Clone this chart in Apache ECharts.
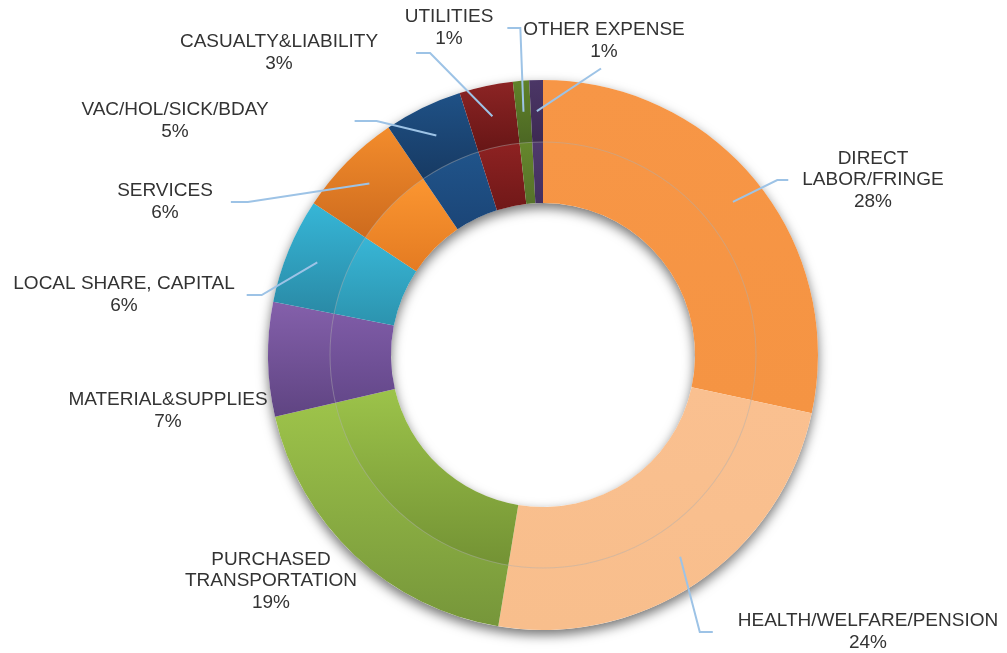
<!DOCTYPE html>
<html>
<head>
<meta charset="utf-8">
<title>Operating expense breakdown</title>
<script src="https://cdn.jsdelivr.net/npm/echarts@6/dist/echarts.min.js"></script>
<style>
  html, body { margin: 0; padding: 0; background: #fff; }
  #chart { width: 1007px; height: 653px; }
</style>
</head>
<body>
<div id="chart"></div>
<script>
// categories as they are printed on the chart (line breaks included)
const categories = [
  'DIRECT\nLABOR/FRINGE',
  'HEALTH/WELFARE/PENSION',
  'PURCHASED\nTRANSPORTATION',
  'MATERIAL&SUPPLIES',
  'LOCAL SHARE, CAPITAL',
  'SERVICES',
  'VAC/HOL/SICK/BDAY',
  'CASUALTY&LIABILITY',
  'UTILITIES',
  'OTHER EXPENSE'
]
// shares (labels show them rounded)
const shares = [28.4, 24.2, 18.8, 6.7, 6.2, 6.2, 4.6, 3.15, 0.95, 0.8]

// slice shading (top -> bottom), outer and inner band
const outerTop = ['#F79646', '#FAC090', '#9DC34A', '#8460AB', '#36B6D7', '#F38C2C', '#1F5186', '#8C2424', '#608229', '#4B3666']
const outerBottom = ['#F59443', '#F8BE8C', '#76963A', '#5F4482', '#2A8AA6', '#CD6B1E', '#173A63', '#671616', '#4C6724', '#3D2A53']
const innerTop = ['#F79646', '#FAC090', '#9CC34A', '#7E5BA6', '#38B6D6', '#FB9631', '#20548A', '#8E2222', '#66872C', '#4F3A6C']
const innerBottom = ['#F59443', '#F8BE8C', '#739234', '#64488A', '#2C93AE', '#E47B22', '#1B4577', '#701818', '#55712A', '#433060']

// label centre x, y, side the leader line meets, gap to the text, length of the flat end
const labelPos = [
  [873, 180, 'left', 14, 11],
  [868, 632, 'left', 25, 13],
  [271, 581, 'none', 0, 0],
  [168, 411, 'none', 0, 0],
  [124, 295, 'right', 12, 15],
  [165, 202, 'right', 18, 17],
  [175, 121, 'right', 86, 22],
  [279, 53, 'right', 38, 14],
  [449, 28, 'right', 14, 13],
  [604, 41, 'bottom', 6, 0]
]

const CENTER = [543, 355]
const LABEL_SERIES = 4

const grad = (top, bottom) => new echarts.graphic.LinearGradient(0, 0, 0, 1, [
  { offset: 0, color: top },
  { offset: 1, color: bottom }
])

const chart = echarts.init(document.getElementById('chart'), null, { renderer: 'canvas' })

const outerData = shares.map((v, i) => ({
  name: categories[i],
  value: v,
  itemStyle: { color: grad(outerTop[i], outerBottom[i]) }
}))
const innerData = shares.map((v, i) => ({
  name: categories[i],
  value: v,
  itemStyle: { color: grad(innerTop[i], innerBottom[i]) }
}))
// same slices again, see-through, only to carry labels + leader lines above the ring
const labelData = shares.map((v, i) => ({
  name: categories[i],
  value: v,
  labelLine: { show: labelPos[i][2] !== 'none' }
}))

const leaderLayout = (p) => {
  const pos = labelPos[p.dataIndex]
  const w = p.labelRect.width
  const h = p.labelRect.height
  const res = { x: pos[0], y: pos[1], align: 'center', verticalAlign: 'middle' }
  if (pos[2] === 'none') return res
  const lay = chart.getModel().getSeriesByIndex(LABEL_SERIES).getData().getItemLayout(p.dataIndex)
  const mid = (lay.startAngle + lay.endAngle) / 2
  const rm = (lay.r + lay.r0) / 2
  const start = [lay.cx + rm * Math.cos(mid), lay.cy + rm * Math.sin(mid)]
  let pts
  if (pos[2] === 'left') {
    const end = [pos[0] - w / 2 - pos[3], pos[1]]
    pts = [start, [end[0] - pos[4], end[1]], end]
  } else if (pos[2] === 'right') {
    const end = [pos[0] + w / 2 + pos[3], pos[1]]
    pts = [start, [end[0] + pos[4], end[1]], end]
  } else {
    const end = [pos[0] - 3, pos[1] + h / 2 + pos[3]]
    pts = [start, end]
  }
  res.labelLinePoints = pts
  return res
}

const option = {
  backgroundColor: '#ffffff',
  animation: false,
  series: [
    {
      // soft drop shadow under the whole ring
      type: 'pie',
      center: CENTER,
      radius: [152, 275],
      silent: true,
      z: 1,
      label: { show: false },
      labelLine: { show: false },
      itemStyle: {
        color: '#ffffff',
        borderWidth: 0,
        shadowBlur: 12,
        shadowOffsetY: 5,
        shadowColor: 'rgba(0,0,0,0.55)'
      },
      emphasis: { disabled: true },
      data: [{ value: 1 }]
    },
    {
      type: 'pie',
      center: CENTER,
      radius: [152, 214],
      startAngle: 90,
      clockwise: true,
      silent: true,
      z: 2,
      label: { show: false },
      labelLine: { show: false },
      itemStyle: { borderWidth: 0 },
      emphasis: { disabled: true },
      data: innerData
    },
    {
      type: 'pie',
      center: CENTER,
      radius: [213, 275],
      startAngle: 90,
      clockwise: true,
      silent: true,
      z: 3,
      label: { show: false },
      labelLine: { show: false },
      itemStyle: { borderWidth: 0 },
      emphasis: { disabled: true },
      data: outerData
    },
    {
      // faint seam between the two bands
      type: 'pie',
      center: CENTER,
      radius: [212.5, 213.5],
      silent: true,
      z: 3,
      label: { show: false },
      labelLine: { show: false },
      itemStyle: { color: 'rgba(175,175,175,0.45)', borderWidth: 0 },
      emphasis: { disabled: true },
      data: [{ value: 1 }]
    },
    {
      type: 'pie',
      center: CENTER,
      radius: [213, 275],
      startAngle: 90,
      clockwise: true,
      avoidLabelOverlap: false,
      z: 4,
      itemStyle: { color: 'rgba(0,0,0,0)', borderWidth: 0 },
      emphasis: { disabled: true },
      label: {
        show: true,
        position: 'outside',
        formatter: (p) => p.name + '\n' + Math.round(p.percent) + '%',
        color: '#333333',
        fontFamily: '"Liberation Sans", Arial, sans-serif',
        fontSize: 19,
        lineHeight: 21.5,
        align: 'center'
      },
      labelLine: {
        show: true,
        lineStyle: { color: '#9DC3E6', width: 2 }
      },
      labelLayout: leaderLayout,
      data: labelData
    }
  ]
}

chart.setOption(option)
</script>
</body>
</html>
